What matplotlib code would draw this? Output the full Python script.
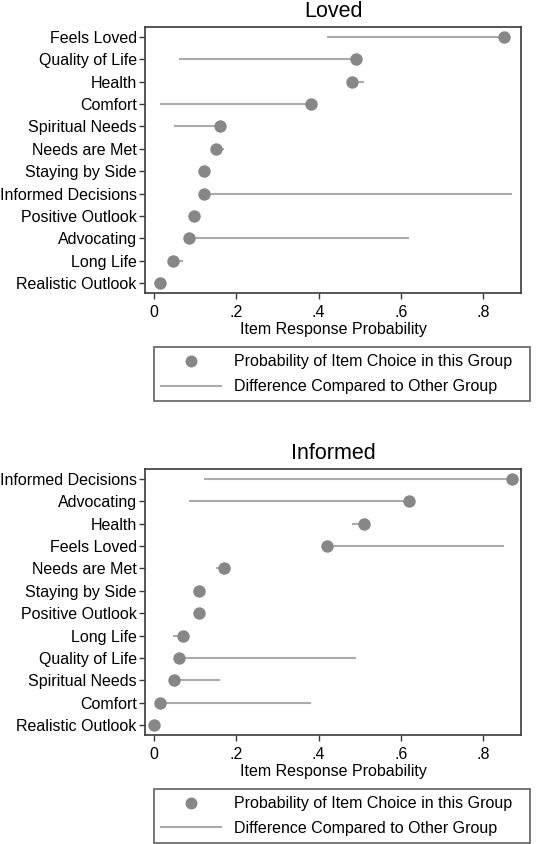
import matplotlib
matplotlib.use("Agg")
import matplotlib.pyplot as plt
from matplotlib.lines import Line2D

plt.rcParams['font.family'] = ['Liberation Sans', 'DejaVu Sans']

items = ["Feels Loved", "Quality of Life", "Health", "Comfort", "Spiritual Needs",
         "Needs are Met", "Staying by Side", "Informed Decisions", "Positive Outlook",
         "Advocating", "Long Life", "Realistic Outlook"]
loved_prob = [0.851, 0.491, 0.480, 0.381, 0.161, 0.151, 0.121, 0.121, 0.096, 0.085, 0.045, 0.015]
informed_prob = [0.421, 0.061, 0.511, 0.015, 0.049, 0.171, 0.110, 0.870, 0.110, 0.620, 0.070, 0.000]

loved_order = ["Feels Loved", "Quality of Life", "Health", "Comfort", "Spiritual Needs",
               "Needs are Met", "Staying by Side", "Informed Decisions", "Positive Outlook",
               "Advocating", "Long Life", "Realistic Outlook"]
informed_order = ["Informed Decisions", "Advocating", "Health", "Feels Loved", "Needs are Met",
                  "Staying by Side", "Positive Outlook", "Long Life", "Quality of Life",
                  "Spiritual Needs", "Comfort", "Realistic Outlook"]

x_ticks = [0, 0.2, 0.4, 0.6, 0.8]
x_ticklabels = ["0", ".2", ".4", ".6", ".8"]

DOT = "#878787"
LINE = "#ababab"
FRAME = "#3a3a3a"
FS = 11.5

W, H = 537, 844
fig = plt.figure(figsize=(W / 100, H / 100), dpi=100)

lookup_l = dict(zip(items, loved_prob))
lookup_i = dict(zip(items, informed_prob))


def panel(rect, title, order, own, other, leg_top, leg_h):
    ax = fig.add_axes(rect)
    ys = list(range(len(order)))
    own_v = [own[k] for k in order]
    oth_v = [other[k] for k in order]
    ax.hlines(ys, oth_v, own_v, color=LINE, lw=1.5, zorder=2)
    ax.scatter(own_v, ys, s=80, color=DOT, zorder=3, linewidths=0)
    ax.set_ylim(len(order) - 1 + 0.45, -0.45)
    ax.set_xlim(-0.022, 0.892)
    ax.set_yticks(ys)
    ax.set_yticklabels(order, fontsize=FS)
    ax.set_xticks(x_ticks)
    ax.set_xticklabels(x_ticklabels, fontsize=FS)
    ax.tick_params(axis='y', length=4, width=1.0, color=FRAME, pad=2)
    ax.tick_params(axis='x', length=4, width=1.0, color=FRAME, pad=4.5)
    for sp in ax.spines.values():
        sp.set_color(FRAME)
        sp.set_linewidth(1.2)
    ax.set_title(title, fontsize=15.5, pad=7)
    ax.set_xlabel("Item Response Probability", fontsize=FS, labelpad=1.5)
    handles = [Line2D([], [], marker='o', ls='none', color=DOT, markersize=8.6, markeredgewidth=0),
               Line2D([], [], color=LINE, lw=1.5)]
    labels = ["Probability of Item Choice in this Group", "Difference Compared to Other Group"]
    leg = fig.legend(handles, labels, loc='upper left', mode='expand',
                     bbox_to_anchor=(154 / W, 1 - (leg_top + leg_h) / H, 376 / W, leg_h / H),
                     borderaxespad=0, fontsize=FS, frameon=True, fancybox=False,
                     handlelength=3.75, handletextpad=0.8, labelspacing=0.62,
                     borderpad=0.45, numpoints=1)
    fr = leg.get_frame()
    fr.set_edgecolor(FRAME)
    fr.set_linewidth(1.2)
    return ax


panel([145 / W, 1 - 293 / H, 376 / W, 266 / H], "Loved", loved_order, lookup_l, lookup_i, 347, 54)
panel([145 / W, 1 - 735 / H, 376 / W, 266 / H], "Informed", informed_order, lookup_i, lookup_l, 789, 54)

fig.savefig("out.png", dpi=100)
